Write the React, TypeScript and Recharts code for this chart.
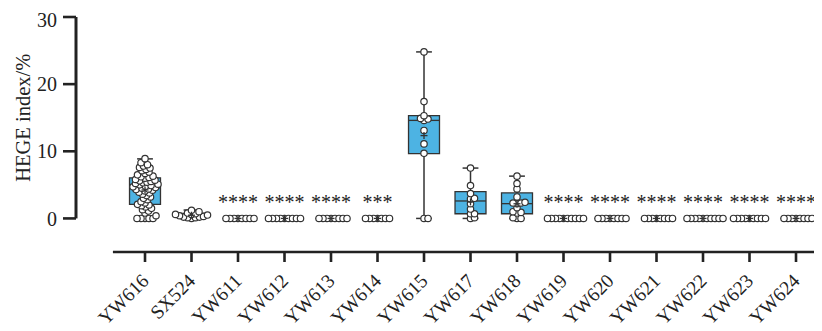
import React from 'react';
import {
  ComposedChart, XAxis, YAxis, Scatter, ReferenceArea, ReferenceLine, Customized,
} from 'recharts';

const strains = ['YW616', 'SX524', 'YW611', 'YW612', 'YW613', 'YW614', 'YW615', 'YW617', 'YW618', 'YW619', 'YW620', 'YW621', 'YW622', 'YW623', 'YW624'];

// box statistics (HEGE index, %)
const whiskerLow = [0, 0, 0, 0, 0, 0, 0, 0, 0, 0, 0, 0, 0, 0, 0];
const quartile1 = [2.08, 0.2, 0, 0, 0, 0, 9.66, 0.7, 0.7, 0, 0, 0, 0, 0, 0];
const medians = [4.56, 0.45, 0, 0, 0, 0, 14.6, 2.6, 2.2, 0, 0, 0, 0, 0, 0];
const quartile3 = [6.05, 0.75, 0, 0, 0, 0, 15.3, 4.0, 3.8, 0, 0, 0, 0, 0, 0];
const whiskerHigh = [8.87, 1.25, 0, 0, 0, 0, 24.8, 7.5, 6.3, 0, 0, 0, 0, 0, 0];
const significance = ['', '', '****', '****', '****', '***', '', '', '', '****', '****', '****', '****', '****', '****'];

// individual isolates
const yw616 = [0, 0, 0, 0, 0, 0.4, 0.8, 1.1, 1.3, 1.5, 1.7, 1.9, 2.0, 2.1, 2.3, 2.5, 2.8, 3.0, 3.2, 3.4, 3.6, 3.8, 3.9, 4.1, 4.2, 4.3, 4.4, 4.5, 4.6, 4.7, 4.8, 4.9, 5.0, 5.1, 5.2, 5.3, 5.4, 5.5, 5.6, 5.7, 5.8, 6.0, 6.1, 6.2, 6.3, 6.5, 6.7, 6.9, 7.1, 7.3, 7.5, 7.6, 7.8, 8.0, 8.3, 8.9];
const sx524 = [0, 0.1, 0.1, 0.2, 0.2, 0.3, 0.4, 0.5, 0.6, 0.6, 0.7, 0.8, 1.0, 1.2];
const yw611 = [0, 0, 0, 0, 0, 0, 0, 0];
const yw612 = [0, 0, 0, 0, 0, 0, 0, 0, 0];
const yw613 = [0, 0, 0, 0, 0, 0, 0, 0];
const yw614 = [0, 0, 0, 0, 0, 0, 0];
const yw615 = [0, 0, 9.7, 11.1, 13.1, 14.6, 14.8, 14.9, 15.3, 17.4, 24.8];
const yw617 = [0, 0.1, 0.7, 0.7, 1.4, 2.2, 2.9, 3.0, 3.7, 4.9, 7.5];
const yw618 = [0, 0, 0.1, 0.8, 0.9, 1.0, 1.6, 2.2, 2.3, 2.3, 2.4, 3.2, 4.4, 5.2, 6.3];
const yw619 = [0, 0, 0, 0, 0, 0, 0, 0, 0, 0];
const yw620 = [0, 0, 0, 0, 0, 0, 0, 0];
const yw621 = [0, 0, 0, 0, 0, 0, 0, 0];
const yw622 = [0, 0, 0, 0, 0, 0, 0, 0, 0, 0];
const yw623 = [0, 0, 0, 0, 0, 0, 0, 0, 0];
const yw624 = [0, 0, 0, 0, 0, 0, 0, 0];
const pointValues = [yw616, sx524, yw611, yw612, yw613, yw614, yw615, yw617, yw618, yw619, yw620, yw621, yw622, yw623, yw624];

const yTicks = [0, 10, 20, 30];

const W = 814;
const H = 323;
const TOP = 9;
const Y_AXIS_W = 68;
const X_AXIS_H = 79;
const X_MIN = -1.484;
const X_MAX = 14.559;
const Y_MIN = -5;
const Y_MAX = 30;
const X_LINE_START = -0.69;
const HALF_BOX = 0.333;
const HALF_CAP = 0.17;

const PX_X = (W - Y_AXIS_W) / (X_MAX - X_MIN);
const PX_Y = (H - TOP - X_AXIS_H) / (Y_MAX - Y_MIN);

const INK = '#222';
const LINE = '#333';
const BOX_FILL = '#4db3e3';
const FONT = '"Liberation Serif", "Times New Roman", serif';

// simple beeswarm: spread overlapping points sideways
function swarm(values: number[], center: number) {
  const D = 4;
  const placed: { x: number; y: number }[] = [];
  [...values].sort((a, b) => a - b).forEach((v) => {
    const py = v * PX_Y;
    let off = 0;
    for (let k = 0; k < 200; k++) {
      const o = k === 0 ? 0 : (k % 2 ? 1 : -1) * Math.ceil(k / 2) * 0.5;
      if (placed.every((p) => Math.hypot(p.x - o, p.y - py) >= D)) { off = o; break; }
    }
    placed.push({ x: off, y: py });
  });
  return placed.map((p) => ({ x: center + p.x / PX_X, y: p.y / PX_Y }));
}

const dots = pointValues.flatMap((vals, i) => swarm(vals, i));
const means = pointValues.map((vals, i) => ({ x: i, y: vals.reduce((s, v) => s + v, 0) / vals.length }));
const stars = significance.map((text, i) => ({ x: i, y: 0, text })).filter((d) => d.text);

const Dot = (p: any) => <circle cx={p.cx} cy={p.cy} r={3.2} fill="#fff" stroke={LINE} strokeWidth={1.2} />;
const Plus = (p: any) => (
  <g stroke={LINE} strokeWidth={1.3}>
    <line x1={p.cx - 3.5} x2={p.cx + 3.5} y1={p.cy} y2={p.cy} />
    <line x1={p.cx} x2={p.cx} y1={p.cy - 3.5} y2={p.cy + 3.5} />
  </g>
);
const Stars = (p: any) => (
  <text x={p.cx} y={p.cy - 9} textAnchor="middle" fontSize={20} fontFamily={FONT} fill={INK}>{p.payload.text}</text>
);

const XTick = ({ x, y, payload }: any) => {
  const ax = x + 5;
  const ay = y + 20;
  return (
    <text x={ax} y={ay} textAnchor="end" transform={`rotate(-45, ${ax}, ${ay})`} fontSize={19.5} fontFamily={FONT} fill={INK}>
      {strains[payload.value]}
    </text>
  );
};

const YTitle = () => {
  const cx = 15;
  const cy = TOP + (Y_MAX - 15) * PX_Y;
  return (
    <text x={cx} y={cy} transform={`rotate(-90, ${cx}, ${cy})`} textAnchor="middle" dominantBaseline="central" fontSize={20.5} fontFamily={FONT} fill={INK}>
      HEGE index/%
    </text>
  );
};

export default function App() {
  return (
    <div style={{ width: W, height: H }}>
      <ComposedChart width={W} height={H} margin={{ top: TOP, right: 0, bottom: 0, left: 0 }}>
        <XAxis
          type="number"
          dataKey="x"
          domain={[X_MIN, X_MAX]}
          ticks={strains.map((_, i) => i)}
          allowDataOverflow
          interval={0}
          height={X_AXIS_H}
          axisLine={false}
          tickSize={10}
          tickMargin={0}
          tickLine={{ stroke: INK, strokeWidth: 2.6 }}
          tick={<XTick />}
        />
        <YAxis
          type="number"
          dataKey="y"
          domain={[Y_MIN, Y_MAX]}
          ticks={yTicks}
          allowDataOverflow
          width={Y_AXIS_W}
          axisLine={false}
          tickSize={13}
          tickMargin={6}
          tickLine={{ stroke: INK, strokeWidth: 2.6 }}
          tick={{ fill: INK, fontSize: 20, fontFamily: FONT }}
        />

        {/* axis lines: y spans 0..30 only, x starts short of the first box */}
        <ReferenceLine segment={[{ x: X_MIN, y: 0 }, { x: X_MIN, y: Y_MAX }]} stroke={INK} strokeWidth={3} ifOverflow="visible" />
        <ReferenceLine segment={[{ x: X_LINE_START, y: Y_MIN }, { x: X_MAX, y: Y_MIN }]} stroke={INK} strokeWidth={2.6} ifOverflow="visible" />

        {strains.map((s, i) => (
          <ReferenceArea key={`box-${s}`} x1={i - HALF_BOX} x2={i + HALF_BOX} y1={quartile1[i]} y2={quartile3[i]}
            fill={BOX_FILL} fillOpacity={1} stroke={LINE} strokeWidth={1.3} ifOverflow="visible" />
        ))}
        {strains.map((s, i) => (
          <ReferenceLine key={`wu-${s}`} segment={[{ x: i, y: quartile3[i] }, { x: i, y: whiskerHigh[i] }]} stroke={LINE} strokeWidth={1.5} ifOverflow="visible" />
        ))}
        {strains.map((s, i) => (
          <ReferenceLine key={`wl-${s}`} segment={[{ x: i, y: whiskerLow[i] }, { x: i, y: quartile1[i] }]} stroke={LINE} strokeWidth={1.5} ifOverflow="visible" />
        ))}
        {strains.map((s, i) => (
          <ReferenceLine key={`cu-${s}`} segment={[{ x: i - HALF_CAP, y: whiskerHigh[i] }, { x: i + HALF_CAP, y: whiskerHigh[i] }]} stroke={LINE} strokeWidth={1.5} ifOverflow="visible" />
        ))}
        {strains.map((s, i) => (
          <ReferenceLine key={`cl-${s}`} segment={[{ x: i - HALF_CAP, y: whiskerLow[i] }, { x: i + HALF_CAP, y: whiskerLow[i] }]} stroke={LINE} strokeWidth={1.5} ifOverflow="visible" />
        ))}
        {strains.map((s, i) => (
          <ReferenceLine key={`md-${s}`} segment={[{ x: i - HALF_BOX, y: medians[i] }, { x: i + HALF_BOX, y: medians[i] }]} stroke={LINE} strokeWidth={1.3} ifOverflow="visible" />
        ))}

        <Scatter data={dots} dataKey="y" shape={<Dot />} isAnimationActive={false} />
        <Scatter data={means} dataKey="y" shape={<Plus />} isAnimationActive={false} />
        <Scatter data={stars} dataKey="y" shape={<Stars />} isAnimationActive={false} />
        <Customized component={YTitle} />
      </ComposedChart>
    </div>
  );
}
